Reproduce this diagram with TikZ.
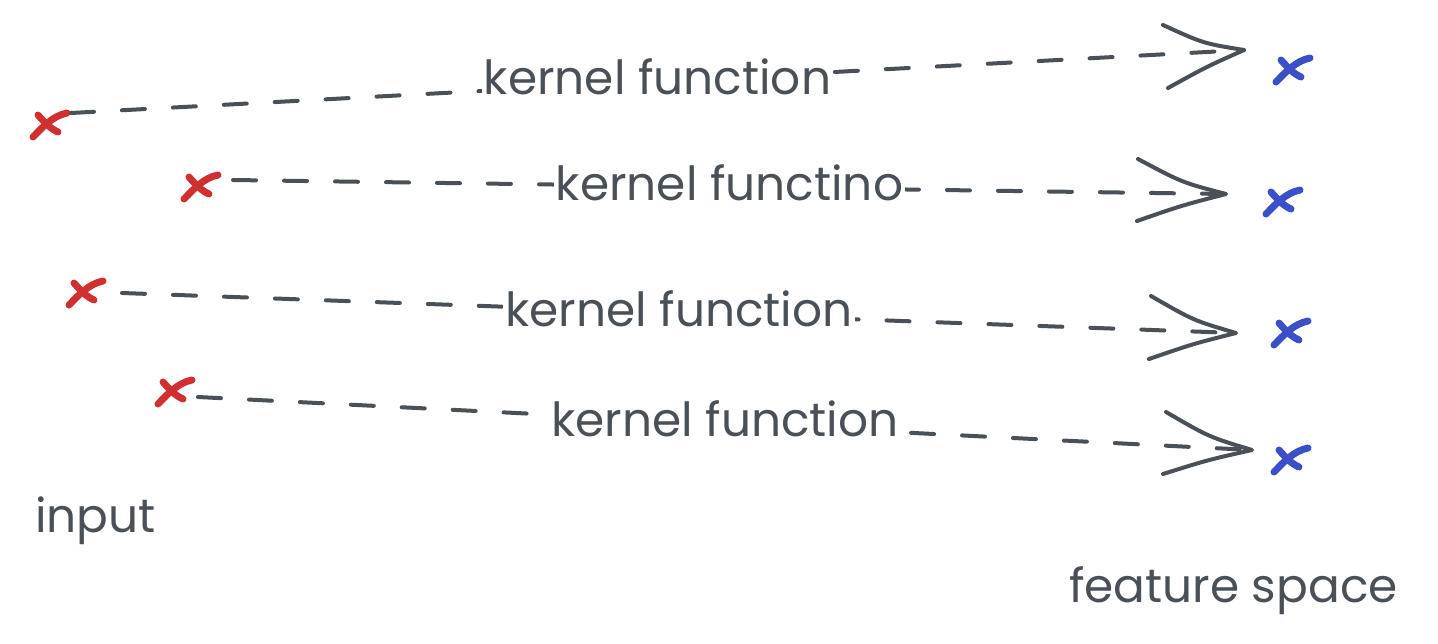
\documentclass[tikz,border=0pt]{standalone}
\usepackage{fontspec}
\setmainfont{Poppins}
\usetikzlibrary{calc}
\definecolor{ink}{HTML}{495057}
\definecolor{xr}{HTML}{D0302F}
\definecolor{xb}{HTML}{3A4FC8}
\begin{document}
\begin{tikzpicture}[x=1pt,y=-1pt,
  dashline/.style={draw=ink, line width=4pt, line cap=round, dash pattern=on 23pt off 28pt},
  arm/.style={draw=ink, line width=4pt, line cap=round, line join=round},
  lbl/.style={fill=white, text=ink, font=\fontsize{47}{52}\selectfont, inner xsep=2pt, inner ysep=1pt, anchor=base, yshift=-13pt},
  plain/.style={text=ink, font=\fontsize{47}{52}\selectfont, inner sep=0pt, anchor=base west},
  xstroke/.style={line width=7pt, line cap=round},
  xred/.style={color=xr}, xblue/.style={color=xb},
  xmark/.pic={
    \draw[xstroke] (-14,12) .. controls (-5,3) and (5,-9) .. (20,-12);
    \draw[xstroke] (-9,-10) .. controls (-2,-2) and (4,4) .. (11,7);
  }]
\useasboundingbox[fill=white] (0,0) rectangle (1438,643);

% input points
\coordinate (r1) at (47,125);
\coordinate (r2) at (198,187);
\coordinate (r3) at (83,293);
\coordinate (r4) at (172,392);
% feature points
\coordinate (b1) at (1290,70);
\coordinate (b2) at (1280,202);
\coordinate (b3) at (1288,333);
\coordinate (b4) at (1288,460);
% line starts
\coordinate (s1) at (71,113);
\coordinate (s2) at (233,180);
\coordinate (s3) at (122,293);
\coordinate (s4) at (198,397);
% arrow tips
\coordinate (t1) at (1244,50);
\coordinate (t2) at (1226,194);
\coordinate (t3) at (1236,333);
\coordinate (t4) at (1252,450);
% arm ends
\coordinate (u1) at (1163,25);  \coordinate (l1) at (1168,88);
\coordinate (u2) at (1138,159); \coordinate (l2) at (1137,221);
\coordinate (u3) at (1151,296); \coordinate (l3) at (1149,359);
\coordinate (u4) at (1166,412); \coordinate (l4) at (1163,474);

\pic[xred] at (r1) {xmark};
\pic[xred] at (r2) {xmark};
\pic[xred] at (r3) {xmark};
\pic[xred] at (r4) {xmark};
\pic[xblue] at (b1) {xmark};
\pic[xblue] at (b2) {xmark};
\pic[xblue] at (b3) {xmark};
\pic[xblue] at (b4) {xmark};

\draw[dashline] (s1) -- node[lbl, pos=0.5] (k1) {kernel function} (t1);
\draw[dashline] (s2) -- node[lbl, pos=0.5] (k2) {kernel functino} (t2);
\draw[dashline] (s3) -- node[lbl, pos=0.5] (k3) {kernel function} (t3);
\draw[dashline] (s4) -- node[lbl, pos=0.5] (k4) {kernel function} (t4);

\foreach \i in {1,2,3,4}{
  \draw[arm] (u\i) .. controls ($(u\i)!0.5!(t\i)+(0,6)$) .. (t\i)
             .. controls ($(l\i)!0.5!(t\i)+(0,-2)$) .. (l\i);
}

\node[plain] (inp) at (35,532) {input};
\node[plain] (fs) at (1069,602) {feature space};
\end{tikzpicture}
\end{document}
